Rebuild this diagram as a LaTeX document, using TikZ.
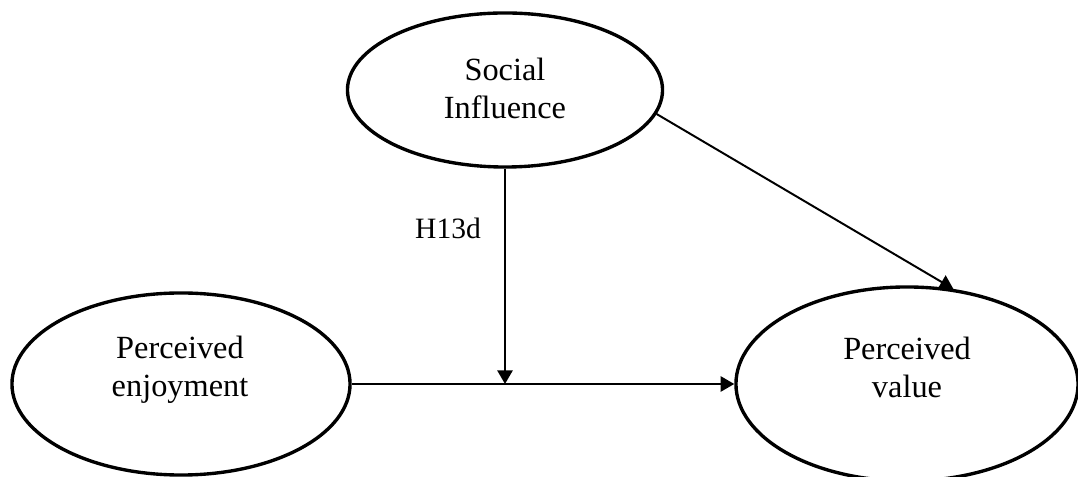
\documentclass[tikz,border=0pt]{standalone}
\usepackage{fontspec}
\setmainfont{Liberation Serif}
\usetikzlibrary{arrows.meta,shapes.geometric,calc}

\tikzset{
  construct/.style={draw, ellipse, line width=2.4pt, inner sep=0pt},
  name text/.style={align=center, font=\fontsize{23}{27}\selectfont},
  path/.style={line width=1.4pt, -{Triangle[length=0.34cm, width=0.38cm]}}
}

\begin{document}
\begin{tikzpicture}[x=0.025cm, y=-0.025cm]
  \useasboundingbox (0, 0) rectangle (1078, 477);

  \node[construct, minimum width=7.875cm, minimum height=3.85cm] at (505, 90) (si) {};
  \node[construct, minimum width=8.45cm, minimum height=4.55cm] at (181, 384) (pe) {};
  \node[construct, minimum width=8.55cm, minimum height=4.85cm] at (907, 384) (pv) {};

  \node[name text] at (505, 88) (si text) {Social\\Influence};
  \node[name text] at (180, 370) (pe text) {Perceived\\enjoyment};
  \node[name text] at (907, 367) (pv text) {Perceived\\value};
  \node[font=\fontsize{21}{25}\selectfont] at (448, 228) (h13d) {H13d};

  \coordinate (join) at (si.south |- pe.east);

  \draw[path] (pe.east) -- (pv.west);
  \draw[path] (si.south) -- (join);
  \draw[path] (si.-9) -- (pv.64);
\end{tikzpicture}
\end{document}
